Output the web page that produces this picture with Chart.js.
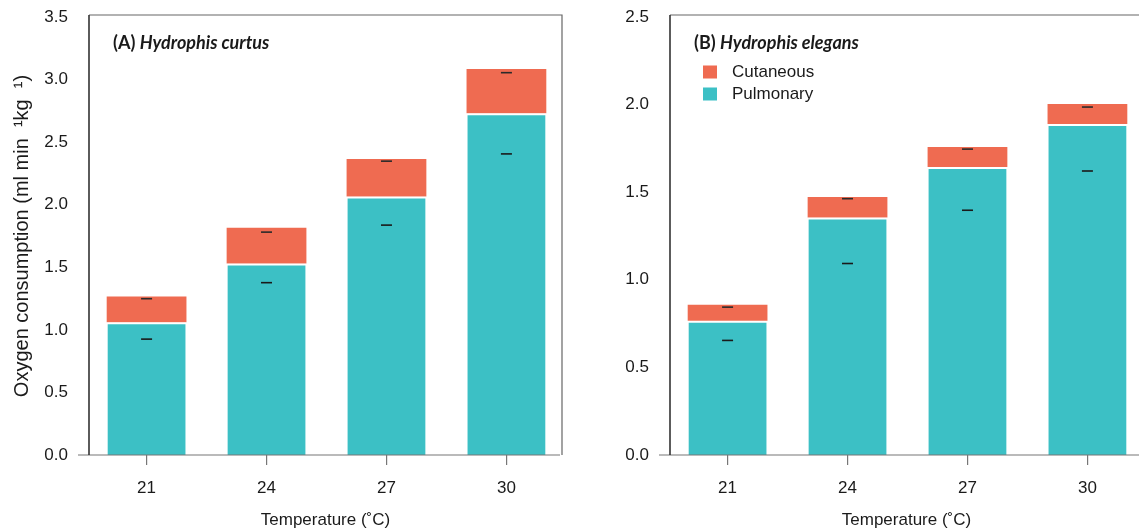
<!DOCTYPE html>
<html>
<head>
<meta charset="utf-8">
<script src="https://cdn.jsdelivr.net/npm/chart.js@4.4.1/dist/chart.umd.min.js"></script>
<style>
    html, body { margin: 0; padding: 0; background: #fff; overflow: hidden; width: 1139px; height: 531px; }
    .panel { position: absolute; top: 0; width: 570px; height: 531px; }
    #panelA { left: 0; }
    #panelB { left: 581px; }
</style>
</head>
<body>
<div class="panel" id="panelA"><canvas id="chartA" width="570" height="531"></canvas></div>
<div class="panel" id="panelB"><canvas id="chartB" width="570" height="531"></canvas></div>
<script>
// --- Daten ---

const temperatures = [21, 24, 27, 30];

// (A) Hydrophis curtus
const pulmonaryA = [1.06, 1.531, 2.065, 2.731];
const cutaneousA = [0.207, 0.285, 0.301, 0.353];
const dashUpperA = [1.249, 1.781, 2.348, 3.055];
const dashLowerA = [0.926, 1.377, 1.837, 2.406];
const yTicksA = [0, 0.5, 1, 1.5, 2, 2.5, 3, 3.5];

// (B) Hydrophis elegans
const pulmonaryB = [0.766, 1.355, 1.644, 1.889];
const cutaneousB = [0.092, 0.118, 0.114, 0.114];
const dashUpperB = [0.844, 1.463, 1.746, 1.986];
const dashLowerB = [0.654, 1.093, 1.397, 1.621];
const yTicksB = [0, 0.5, 1, 1.5, 2, 2.5];

const seriesLabels = ["Cutaneous", "Pulmonary"];

const TEAL = "#3cc0c5";
const CORAL = "#ef6b51";
const TEXT = "#1a1a1a";
const BASE_FONT = "'Liberation Sans', Arial, sans-serif";

// --- Hilfsfunktionen ---

function points(values) {
    return temperatures.map((t, i) => ({ x: t, y: values[i] }));
}

// Rahmen und Achsenlinien im Stil von R
const frameLines = {
    id: "frameLines",
    afterDatasetsDraw(chart) {
        const { ctx, chartArea: a, scales } = chart;
        const y0 = scales.y.getPixelForValue(0);
        ctx.save();
        ctx.lineCap = "butt";
        // obere und rechte Kante
        ctx.strokeStyle = "#666";
        ctx.lineWidth = 1.2;
        ctx.beginPath();
        ctx.moveTo(a.left, a.top - 2);
        ctx.lineTo(a.right, a.top - 2);
        ctx.lineTo(a.right, y0);
        ctx.stroke();
        // x-Achse, ragt links etwas heraus
        ctx.strokeStyle = "#777";
        ctx.lineWidth = 1.2;
        ctx.beginPath();
        ctx.moveTo(a.left - 11, y0);
        ctx.lineTo(a.right - 2, y0);
        ctx.stroke();
        // y-Achse
        ctx.strokeStyle = "#333";
        ctx.lineWidth = 1.6;
        ctx.beginPath();
        ctx.moveTo(a.left, a.top - 2);
        ctx.lineTo(a.left, y0);
        ctx.stroke();
        ctx.restore();
    }
};

// Panel-Titel: Buchstabe fett, Artname fett kursiv
const panelTitle = {
    id: "panelTitle",
    afterDraw(chart, args, opts) {
        const ctx = chart.ctx;
        ctx.save();
        ctx.fillStyle = TEXT;
        ctx.textBaseline = "middle";
        ctx.font = "bold 18px Lato, 'Open Sans', sans-serif";
        ctx.fillText(opts.tag + " ", opts.x, opts.y);
        const w = ctx.measureText(opts.tag + " ").width;
        ctx.font = "italic bold 18px Lato, 'Open Sans', sans-serif";
        ctx.fillText(opts.species, opts.x + w, opts.y);
        ctx.restore();
    }
};

// Legende mit Farbquadraten
const boxLegend = {
    id: "boxLegend",
    afterDraw(chart, args, opts) {
        if (!opts.show) return;
        const ctx = chart.ctx;
        const items = [
            { text: seriesLabels[0], color: CORAL },
            { text: seriesLabels[1], color: TEAL }
        ];
        ctx.save();
        ctx.font = "17px " + BASE_FONT;
        ctx.textBaseline = "middle";
        items.forEach((item, i) => {
            const cy = opts.y + i * opts.gap;
            ctx.fillStyle = item.color;
            ctx.fillRect(opts.x, cy - 6.5, 14, 13);
            ctx.fillStyle = TEXT;
            ctx.fillText(item.text, opts.x + 29, cy);
        });
        ctx.restore();
    }
};

function makePanel(canvasId, cfg) {
    const ctx = document.getElementById(canvasId).getContext("2d");
    return new Chart(ctx, {
        type: "bar",
        data: {
            datasets: [
                {
                    label: seriesLabels[1],
                    data: points(cfg.pulmonary),
                    backgroundColor: TEAL,
                    borderColor: "rgba(255,255,255,0.55)",
                    borderWidth: { top: 2, left: 1, right: 1, bottom: 0 },
                    borderSkipped: false,
                    stack: "bars",
                    order: 1
                },
                {
                    label: seriesLabels[0],
                    data: points(cfg.cutaneous),
                    backgroundColor: CORAL,
                    borderWidth: 0,
                    stack: "bars",
                    order: 1
                },
                {
                    type: "line",
                    label: "upper",
                    data: points(cfg.dashUpper),
                    showLine: false,
                    pointStyle: "line",
                    pointRadius: 5.5,
                    pointBorderWidth: 1.6,
                    pointBorderColor: "#2a2a2a",
                    stack: "dashU",
                    order: 0
                },
                {
                    type: "line",
                    label: "lower",
                    data: points(cfg.dashLower),
                    showLine: false,
                    pointStyle: "line",
                    pointRadius: 5.5,
                    pointBorderWidth: 1.6,
                    pointBorderColor: "#1a1a1a",
                    stack: "dashL",
                    order: 0
                }
            ]
        },
        options: {
            responsive: false,
            animation: false,
            barPercentage: 0.665,
            categoryPercentage: 1,
            layout: { padding: { top: 17, right: 8, bottom: 0, left: 0 } },
            plugins: {
                legend: { display: false },
                tooltip: { enabled: false },
                panelTitle: { tag: cfg.tag, species: cfg.species, x: 113, y: 43 },
                boxLegend: { show: cfg.legend, x: 122, y: 72, gap: 22 }
            },
            scales: {
                x: {
                    type: "linear",
                    stacked: true,
                    min: 19.56,
                    max: 31.39,
                    offset: false,
                    afterBuildTicks: (scale) => {
                        scale.ticks = temperatures.map(v => ({ value: v }));
                    },
                    afterFit: (scale) => { scale.height = 76; },
                    grid: { display: true, offset: false, drawOnChartArea: false, drawTicks: true, tickLength: 10, color: "#777", lineWidth: 1.2 },
                    border: { display: false },
                    ticks: {
                        padding: 13,
                        color: TEXT,
                        font: { family: BASE_FONT, size: 17 },
                        callback: (v) => String(v)
                    },
                    title: {
                        display: true,
                        text: "Temperature (\u02DAC)",
                        color: TEXT,
                        font: { family: BASE_FONT, size: 17 },
                        padding: { top: 0, bottom: 0 }
                    }
                },
                y: {
                    stacked: true,
                    min: 0,
                    max: cfg.yMax,
                    afterBuildTicks: (scale) => {
                        scale.ticks = cfg.yTicks.map(v => ({ value: v }));
                    },
                    afterFit: (scale) => { scale.width = 89; },
                    // Abstand der Beschriftung über unsichtbare Tick-Länge
                    grid: { display: false, drawTicks: true, tickLength: 18 },
                    border: { display: false },
                    ticks: {
                        padding: 3,
                        color: TEXT,
                        font: { family: BASE_FONT, size: 17 },
                        callback: (v) => v.toFixed(1)
                    },
                    title: {
                        display: cfg.yTitle,
                        text: "Oxygen consumption (ml min  \u00B9kg  \u00B9)",
                        color: TEXT,
                        font: { family: BASE_FONT, size: 20 },
                        padding: { top: 10, bottom: 0 }
                    }
                }
            }
        },
        plugins: [frameLines, panelTitle, boxLegend]
    });
}

document.addEventListener("DOMContentLoaded", function () {
    makePanel("chartA", {
        tag: "(A)", species: "Hydrophis curtus",
        pulmonary: pulmonaryA, cutaneous: cutaneousA,
        dashUpper: dashUpperA, dashLower: dashLowerA,
        yMax: 3.5, yTicks: yTicksA, yTitle: true, legend: false
    });
    makePanel("chartB", {
        tag: "(B)", species: "Hydrophis elegans",
        pulmonary: pulmonaryB, cutaneous: cutaneousB,
        dashUpper: dashUpperB, dashLower: dashLowerB,
        yMax: 2.5, yTicks: yTicksB, yTitle: false, legend: true
    });
});
</script>
</body>
</html>
